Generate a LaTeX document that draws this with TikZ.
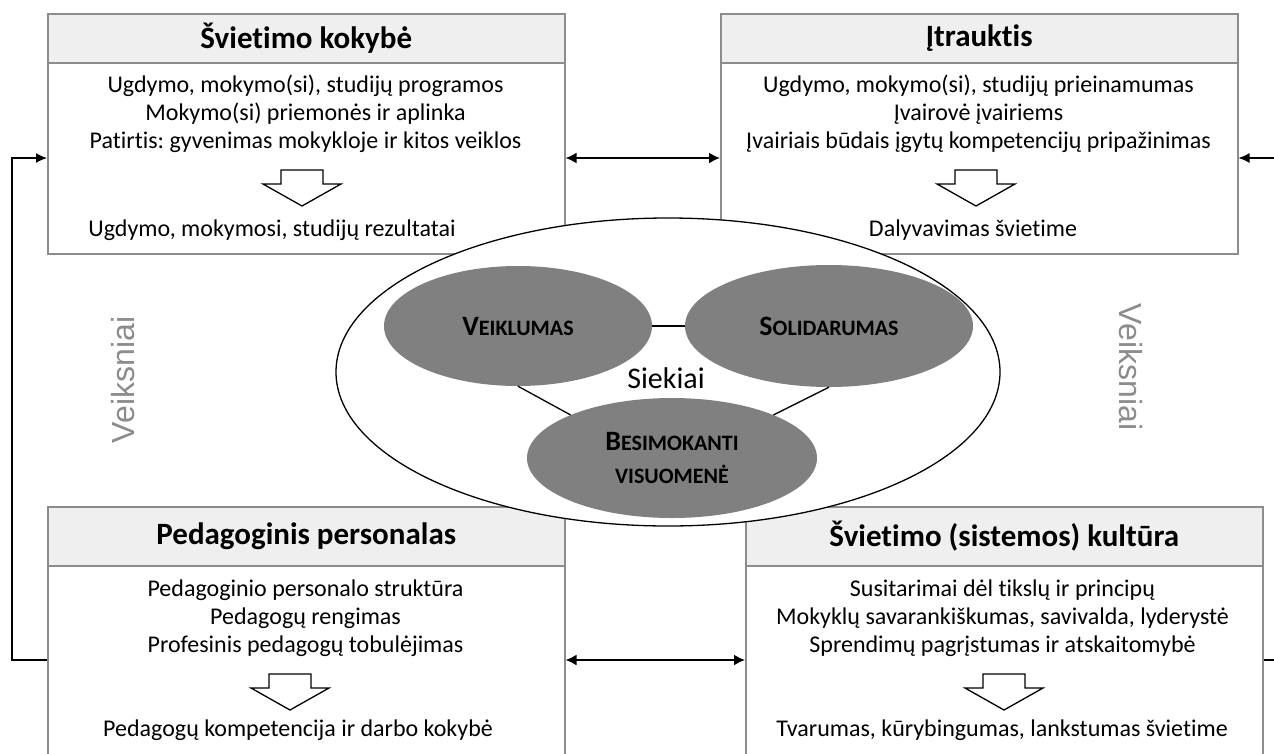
\documentclass[tikz,border=0pt]{standalone}
\usepackage{fontspec}
\setmainfont{Carlito}[Ligatures=NoCommon]
\newfontfamily\arialf{Liberation Sans}
\usetikzlibrary{arrows.meta,shapes.geometric,calc}
\definecolor{boxline}{HTML}{8C8C8C}
\definecolor{hdrfill}{HTML}{EFEFEF}
\definecolor{ellfill}{HTML}{808080}
\definecolor{vkgray}{HTML}{8C8C8C}
\newcommand\myscx[2]{{\fontsize{28}{30}\selectfont #1}#2}
\frenchspacing
\tikzset{
  boxbody/.style={draw=boxline, line width=1.5pt, fill=white, rectangle, inner sep=0pt, anchor=north west, minimum width=517pt},
  hdrbox/.style={draw=boxline, line width=1.5pt, fill=hdrfill, rectangle, inner sep=0pt, anchor=north west, minimum width=517pt, font=\bfseries\fontsize{31}{34}\selectfont},
  bodytext/.style={align=center, inner sep=0pt, font=\fontsize{24}{28}\selectfont},
  restext/.style={inner sep=0pt, font=\fontsize{24}{28}\selectfont},
  hollowarrow/.pic={\draw[line width=1.3pt, fill=white] (-21,0) -- (21,0) -- (21,14) -- (39,14) -- (0,36) -- (-39,14) -- (-21,14) -- cycle;},
  dbl/.style={line width=1.8pt, {Latex[length=11pt,width=11pt]}-{Latex[length=11pt,width=11pt]}},
  loopline/.style={line width=1.3pt},
  looparrow/.style={line width=1.3pt, -{Latex[length=11pt,width=10pt]}},
  bigell/.style={ellipse, draw=black, line width=1.3pt, fill=white, inner sep=0pt},
  aimell/.style={ellipse, fill=ellfill, inner sep=0pt, align=center, font=\bfseries\fontsize{22}{33}\selectfont},
  joinline/.style={line width=1.3pt, black},
  vk/.style={text=vkgray, inner sep=0pt, font=\arialf\fontsize{32}{36}\selectfont}
}
\begin{document}
\begin{tikzpicture}[x=1pt,y=-1pt]
\useasboundingbox (0,0) rectangle (1274,753);
\clip (0,0) rectangle (1274,753);
\fill[white] (0,0) rectangle (1274,753);

% boxes
\node[boxbody, minimum height=240pt] (b1) at (47,13) {};
\node[hdrbox, minimum height=49pt] (h1) at (47,13) {Švietimo kokybė};
\node[boxbody, minimum height=240pt] (b2) at (720,13) {};
\node[hdrbox, minimum height=49pt] (h2) at (720,13) {Įtrauktis};
\node[boxbody, minimum height=300pt] (b3) at (47,506) {};
\node[hdrbox, minimum height=59pt] (h3) at (47,506) {Pedagoginis personalas};
\node[boxbody, minimum height=300pt] (b4) at (745,506) {};
\node[hdrbox, minimum height=59pt] (h4) at (745,506) {Švietimo (sistemos) kultūra};

% box texts
\node[bodytext] (l1) at (305.5,114) {Ugdymo, mokymo(si), studijų programos\\Mokymo(si) priemonės ir aplinka\\Patirtis: gyvenimas mokykloje ir kitos veiklos};
\node[restext] (r1) at (272,230) {Ugdymo, mokymosi, studijų rezultatai};
\node[bodytext] (l2) at (978.5,114) {Ugdymo, mokymo(si), studijų prieinamumas\\Įvairovė įvairiems\\Įvairiais būdais įgytų kompetencijų pripažinimas};
\node[restext] (r2) at (973,230) {Dalyvavimas švietime};
\node[bodytext] (l3) at (305.5,618) {Pedagoginio personalo struktūra\\Pedagogų rengimas\\Profesinis pedagogų tobulėjimas};
\node[restext] (r3) at (298,730) {Pedagogų kompetencija ir darbo kokybė};
\node[bodytext] (l4) at (1002.5,618) {Susitarimai dėl tikslų ir principų\\Mokyklų savarankiškumas, savivalda, lyderystė\\Sprendimų pagrįstumas ir atskaitomybė};
\node[restext] (r4) at (1002,730) {Tvarumas, kūrybingumas, lankstumas švietime};

% hollow arrows
\pic at (302,170) {hollowarrow};
\pic at (976,170) {hollowarrow};
\pic at (290,674) {hollowarrow};
\pic at (1004,674) {hollowarrow};

% connectors
\coordinate (yt) at (0,158);
\coordinate (yb) at (0,660);
\coordinate (rt) at (1274,158);
\coordinate (rb) at (1274,660);
\draw[dbl] (b1.north east |- yt) -- (b2.north west |- yt);
\draw[dbl] (b3.north east |- yb) -- (b4.north west |- yb);
\draw[looparrow] (b3.north west |- yb) -- ++(-35,0) |- (b1.north west |- yt);
\draw[looparrow] (rt) -- (b2.north east |- yt);
\draw[loopline] (b4.north east |- yb) -- (rb);

% Veiksniai
\node[vk, rotate=90] (vl) at (123,380) {Veiksniai};
\node[vk, rotate=-90] (vr) at (1131,367) {Veiksniai};

% aims
\node[bigell, minimum width=664pt, minimum height=308pt] (E) at (668,372) {};
\node[aimell, minimum width=268pt, minimum height=120pt] (V) at (518,326) {\myscx{V}{EIKLUMAS}};
\node[aimell, minimum width=288pt, minimum height=122pt] (S) at (829,326) {\myscx{S}{OLIDARUMAS}};
\node[aimell, minimum width=290pt, minimum height=120pt] (B) at (672,458) {\myscx{B}{ESIMOKANTI}\\VISUOMENĖ};
\draw[joinline] (V.east) -- (S.west);
\draw[joinline] (V.south) -- (B.157);
\draw[joinline] (S.south) -- (B.23);
\node[inner sep=0pt, font=\fontsize{30}{34}\selectfont] (sk) at (666,378) {Siekiai};
\end{tikzpicture}
\end{document}
